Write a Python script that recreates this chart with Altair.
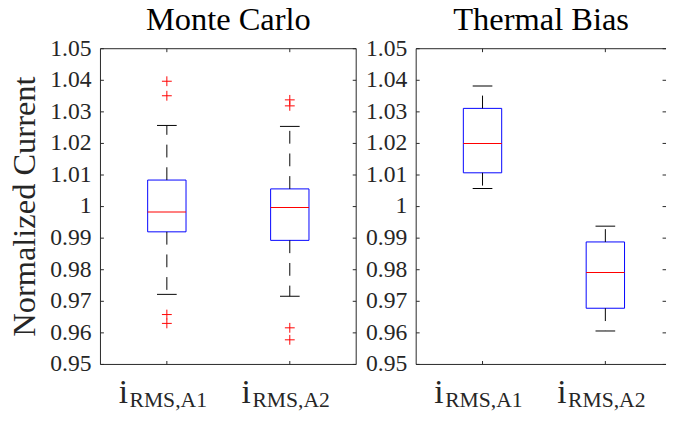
import altair as alt
import pandas as pd

# ---------------- data ----------------
Y_TICKS = [0.95, 0.96, 0.97, 0.98, 0.99, 1.00, 1.01, 1.02, 1.03, 1.04, 1.05]
Y_LABELS = ["0.95", "0.96", "0.97", "0.98", "0.99", "1", "1.01", "1.02", "1.03", "1.04", "1.05"]
CATS = [1, 2]
MAIN_LABELS = ["i", "i"]
SUB_LABELS = ["RMS,A1", "RMS,A2"]
Y_TITLE = "Normalized Current"
PANEL_TITLES = ["Monte Carlo", "Thermal Bias"]

# Monte Carlo
mc_q1 = [0.9920, 0.9893]
mc_med = [0.9983, 0.9997]
mc_q3 = [1.0084, 1.0056]
mc_lo = [0.9722, 0.9716]
mc_hi = [1.0257, 1.0254]
mc_out_idx = [1, 1, 1, 1, 2, 2, 2, 2]
mc_out_val = [1.0397, 1.0351, 0.9658, 0.9630, 1.0338, 1.0319, 0.9616, 0.9578]

# Thermal Bias
tb_q1 = [1.0107, 0.9678]
tb_med = [1.0200, 0.9791]
tb_q3 = [1.0311, 0.9888]
tb_lo = [1.0057, 0.9606]
tb_hi = [1.0382, 0.9938]
tb_out_idx = []
tb_out_val = []

BLUE = "#0000FF"
RED = "#FF0000"
AX = "#262626"
FONT = "Liberation Serif"
H = 321
TICK = 3.5


def panel(title, q1, med, q3, lo, hi, out_idx, out_val, width, xmax, with_ytitle, right_border):
    stats = pd.DataFrame({"idx": CATS, "q1": q1, "med": med, "q3": q3,
                          "lo": lo, "hi": hi, "main": MAIN_LABELS, "sub": SUB_LABELS})
    outl = pd.DataFrame({"idx": out_idx, "val": out_val}, dtype=float)
    ticks = pd.DataFrame({"v": Y_TICKS, "lab": Y_LABELS})
    one = pd.DataFrame({"t": [title], "yt": [Y_TITLE]})

    xs = alt.Scale(domain=[0.5, xmax], nice=False, zero=False)
    ys = alt.Scale(domain=[0.95, 1.05], nice=False, zero=False)
    X = alt.X("idx:Q", scale=xs, axis=None)

    base = alt.Chart(stats)
    box = base.mark_bar(filled=False, stroke=BLUE, strokeWidth=1, size=39).encode(
        x=X, y=alt.Y("q1:Q", scale=ys, axis=None), y2="q3:Q")
    medl = base.mark_tick(orient="horizontal", size=39, thickness=1, color=RED, opacity=1).encode(
        x=X, y=alt.Y("med:Q", scale=ys, axis=None))
    wup = base.mark_rule(color="black", strokeWidth=1, strokeDash=[13, 10]).encode(
        x=X, y=alt.Y("q3:Q", scale=ys, axis=None), y2="hi:Q")
    wlo = base.mark_rule(color="black", strokeWidth=1, strokeDash=[13, 10]).encode(
        x=X, y=alt.Y("q1:Q", scale=ys, axis=None), y2="lo:Q")
    cup = base.mark_tick(orient="horizontal", size=20, thickness=1, color="black", opacity=1).encode(
        x=X, y=alt.Y("hi:Q", scale=ys, axis=None))
    clo = base.mark_tick(orient="horizontal", size=20, thickness=1, color="black", opacity=1).encode(
        x=X, y=alt.Y("lo:Q", scale=ys, axis=None))

    layers = [box, wup, wlo, cup, clo, medl]

    if len(out_val):
        pts = alt.Chart(outl).mark_point(shape="M-1,0L1,0M0,-1L0,1", filled=False, size=100,
                                         stroke=RED, strokeWidth=1, opacity=1).encode(
            x=alt.X("idx:Q", scale=xs, axis=None), y=alt.Y("val:Q", scale=ys, axis=None))
        layers.append(pts)

    # frame (box around the axes) and inward ticks
    oc = alt.Chart(one)
    layers.append(oc.mark_rule(color=AX, strokeWidth=1).encode(
        x=alt.value(0), x2=alt.value(width), y=alt.value(0)))
    layers.append(oc.mark_rule(color=AX, strokeWidth=1).encode(
        x=alt.value(0), x2=alt.value(width), y=alt.value(H)))
    layers.append(oc.mark_rule(color=AX, strokeWidth=1).encode(
        x=alt.value(0), y=alt.value(0), y2=alt.value(H)))
    if right_border:
        layers.append(oc.mark_rule(color=AX, strokeWidth=1).encode(
            x=alt.value(width), y=alt.value(0), y2=alt.value(H)))
    tc = alt.Chart(ticks)
    layers.append(tc.mark_rule(color=AX, strokeWidth=1).encode(
        y=alt.Y("v:Q", scale=ys, axis=None), x=alt.value(0), x2=alt.value(TICK)))
    layers.append(tc.mark_rule(color=AX, strokeWidth=1).encode(
        y=alt.Y("v:Q", scale=ys, axis=None), x=alt.value(width - TICK), x2=alt.value(width)))
    layers.append(base.mark_rule(color=AX, strokeWidth=1).encode(
        x=X, y=alt.value(0), y2=alt.value(TICK)))
    layers.append(base.mark_rule(color=AX, strokeWidth=1).encode(
        x=X, y=alt.value(H - TICK), y2=alt.value(H)))

    # y tick labels
    layers.append(tc.mark_text(align="right", baseline="middle", fontSize=24, font=FONT,
                               color=AX).encode(
        y=alt.Y("v:Q", scale=ys, axis=None), x=alt.value(-9), text="lab:N"))

    # category labels: "i" with subscript
    layers.append(base.mark_text(align="left", baseline="alphabetic", fontSize=34, font=FONT,
                                 color=AX, dx=-49).encode(x=X, y=alt.value(H + 39), text="main:N"))
    layers.append(base.mark_text(align="left", baseline="alphabetic", fontSize=22, font=FONT,
                                 color=AX, dx=-38).encode(x=X, y=alt.value(H + 43), text="sub:N"))

    # panel title
    layers.append(oc.mark_text(align="center", baseline="alphabetic", fontSize=33, font=FONT,
                               color="black").encode(
        x=alt.value(width / 2), y=alt.value(-19), text="t:N"))
    if with_ytitle:
        layers.append(oc.mark_text(align="center", baseline="alphabetic", fontSize=33, font=FONT,
                                   color=AX, angle=270).encode(
            x=alt.value(-67), y=alt.value(H / 2), text="yt:N"))

    return alt.layer(*layers).properties(width=width, height=H)


left = panel(PANEL_TITLES[0], mc_q1, mc_med, mc_q3, mc_lo, mc_hi, mc_out_idx, mc_out_val,
             260, 2.5, True, True)
right = panel(PANEL_TITLES[1], tb_q1, tb_med, tb_q3, tb_lo, tb_hi, tb_out_idx, tb_out_val,
              254, 0.5 + 254 / 130.0, False, False)

chart = alt.hconcat(left, right, spacing=8).properties(
    padding={"left": 0, "top": -8, "right": 0, "bottom": 0}
).configure(font=FONT).configure_view(stroke="transparent")

chart.save("out.html", embed_options={"renderer": "svg", "actions": False})
